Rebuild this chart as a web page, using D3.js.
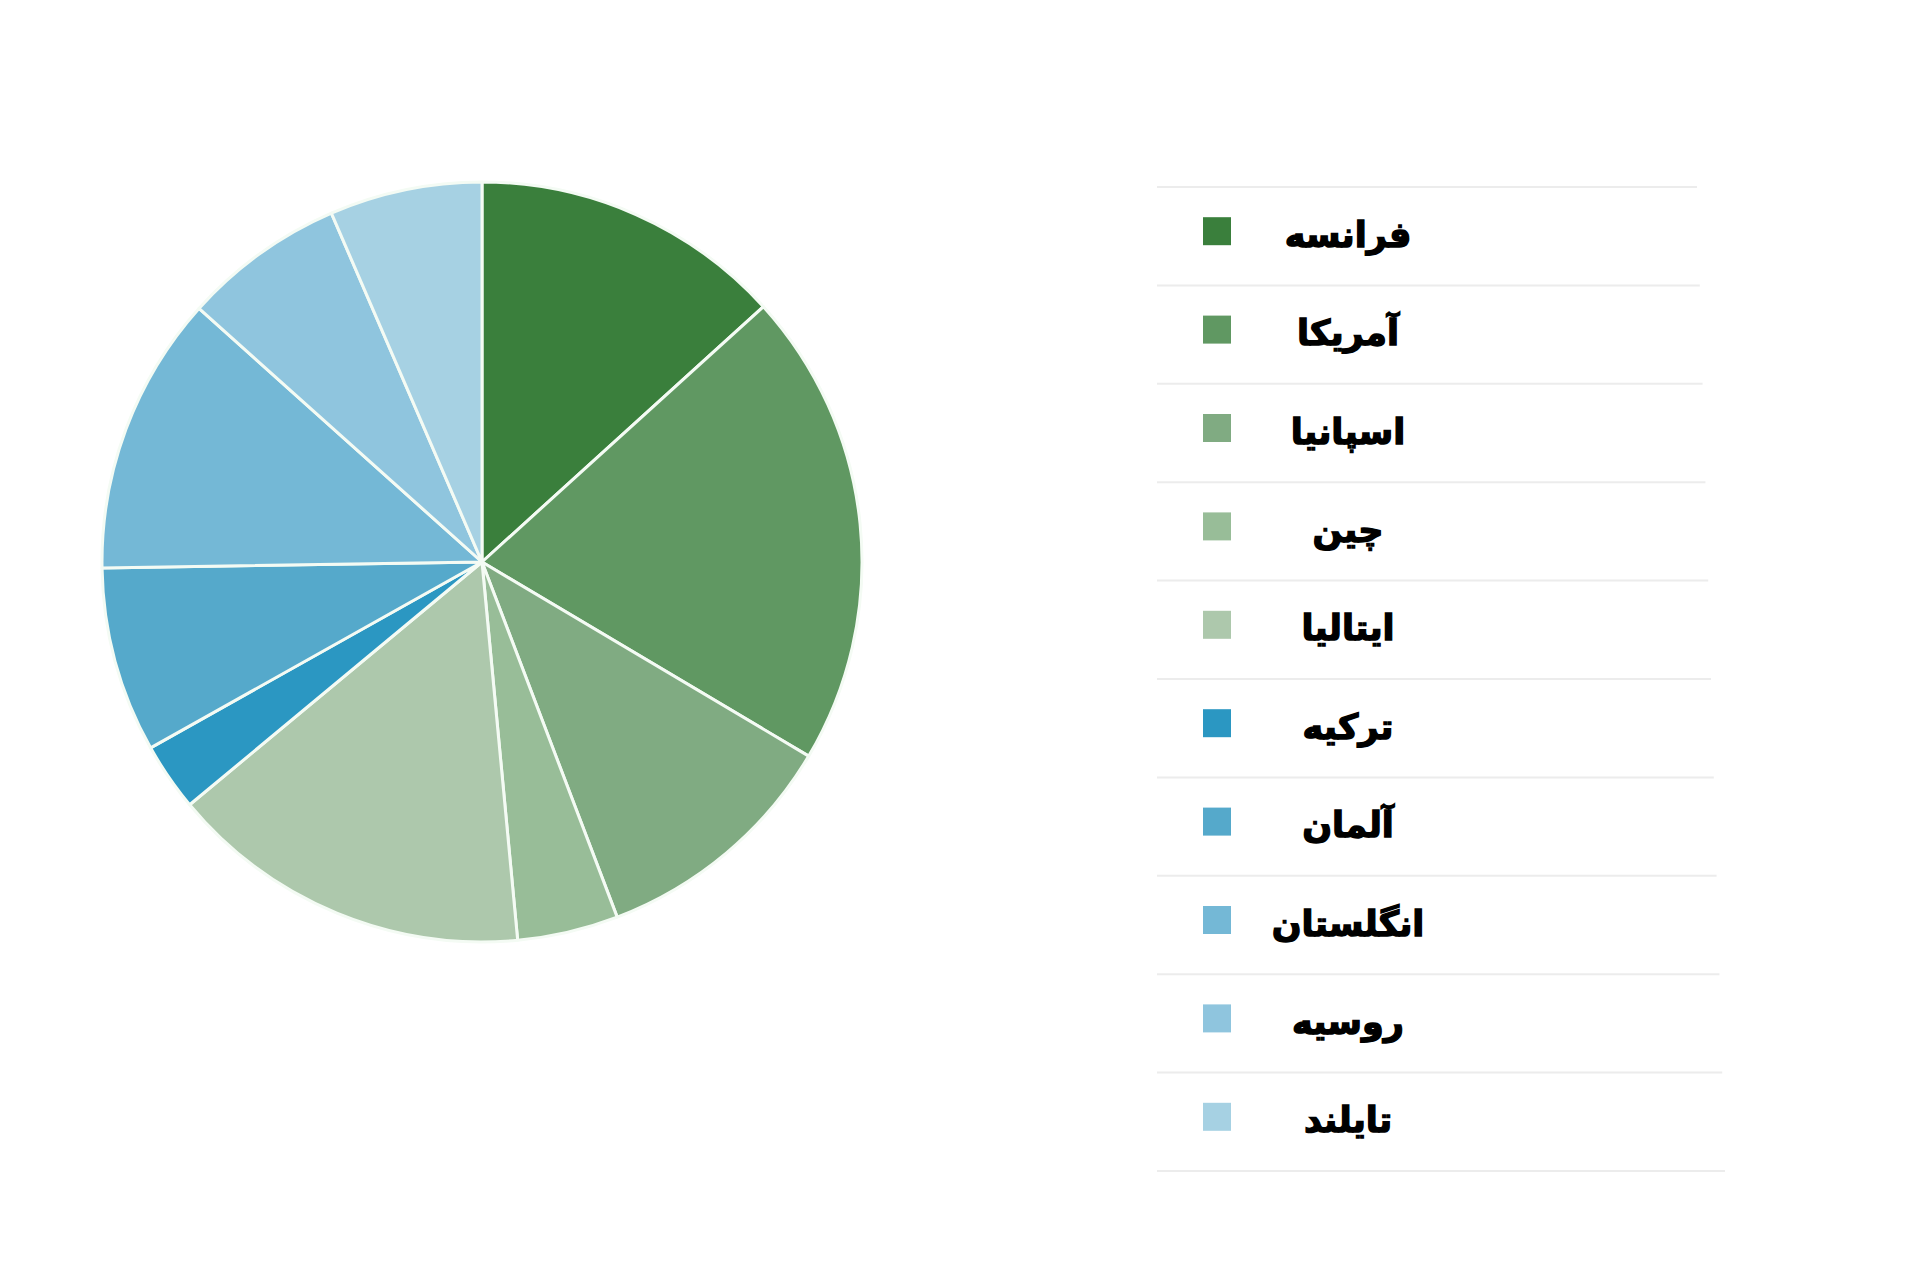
<!DOCTYPE html>
<html>
<head>
<meta charset="utf-8">
<script src="https://cdn.jsdelivr.net/npm/d3@7"></script>
<style>
  html, body { margin: 0; padding: 0; background: #fff; }
  text { font-family: "DejaVu Sans", sans-serif; font-weight: bold; }
</style>
</head>
<body>
<div id="chart"></div>
<script>
// countries, clockwise from 12 o'clock
const countries = ['فرانسه', 'آمریکا', 'اسپانیا', 'چین', 'ایتالیا', 'ترکیه', 'آلمان', 'انگلستان', 'روسیه', 'تایلند'];
const shares = [13.3, 20.3, 10.7, 4.3, 15.5, 2.9, 7.9, 11.9, 6.9, 6.5];
const colors = ['#3a7f3c', '#609862', '#80ab82', '#98bd98', '#adc8ac', '#2b97c2', '#55a9cb', '#74b8d6', '#8fc5de', '#a6d1e3'];

const width = 1920;
const height = 1283;
const center = {x: 482, y: 562};
const radius = 380;

const svg = d3.select('#chart')
   .append('svg')
   .attr('width', width)
   .attr('height', height)
   .attr('viewBox', [0, 0, width, height]);

const color = d3.scaleOrdinal()
   .domain(countries)
   .range(colors);

const pie = d3.pie()
   .sort(null)
   .value((d, i) => shares[i]);

const arc = d3.arc()
   .innerRadius(0)
   .outerRadius(radius);

svg.append('g')
   .attr('transform', `translate(${center.x}, ${center.y})`)
   .selectAll('path')
   .data(pie(countries))
   .join('path')
   .attr('d', arc)
   .attr('fill', d => color(d.data))
   .attr('stroke', '#f4fbf4')
   .attr('stroke-width', 3)
   .attr('stroke-linejoin', 'round');

// legend
const legendTop = 187;
const rowH = 98.4;
const legendX = 1157;

const rows = d3.scaleBand()
   .domain(countries)
   .range([legendTop, legendTop + rowH * countries.length]);

const legend = svg.append('g')
   .attr('transform', `translate(${legendX}, 0)`);

legend.selectAll('line')
   .data(d3.range(countries.length + 1))
   .join('line')
   .attr('x1', 0)
   .attr('x2', i => 540 + i * 2.8)
   .attr('y1', i => legendTop + i * rowH)
   .attr('y2', i => legendTop + i * rowH)
   .attr('stroke', '#ececec')
   .attr('stroke-width', 2);

legend.selectAll('rect')
   .data(countries)
   .join('rect')
   .attr('x', 46)
   .attr('y', d => rows(d) + rows.bandwidth() / 2 - 19)
   .attr('width', 28)
   .attr('height', 28)
   .attr('fill', d => color(d));

legend.selectAll('text')
   .data(countries)
   .join('text')
   .attr('x', 191)
   .attr('y', d => rows(d) + rows.bandwidth() / 2)
   .attr('dy', '0.3em')
   .attr('text-anchor', 'middle')
   .attr('direction', 'rtl')
   .attr('font-size', '35px')
   .attr('fill', '#000')
   .attr('stroke', '#000')
   .attr('stroke-width', 1.4)
   .text(d => d);
</script>
</body>
</html>
